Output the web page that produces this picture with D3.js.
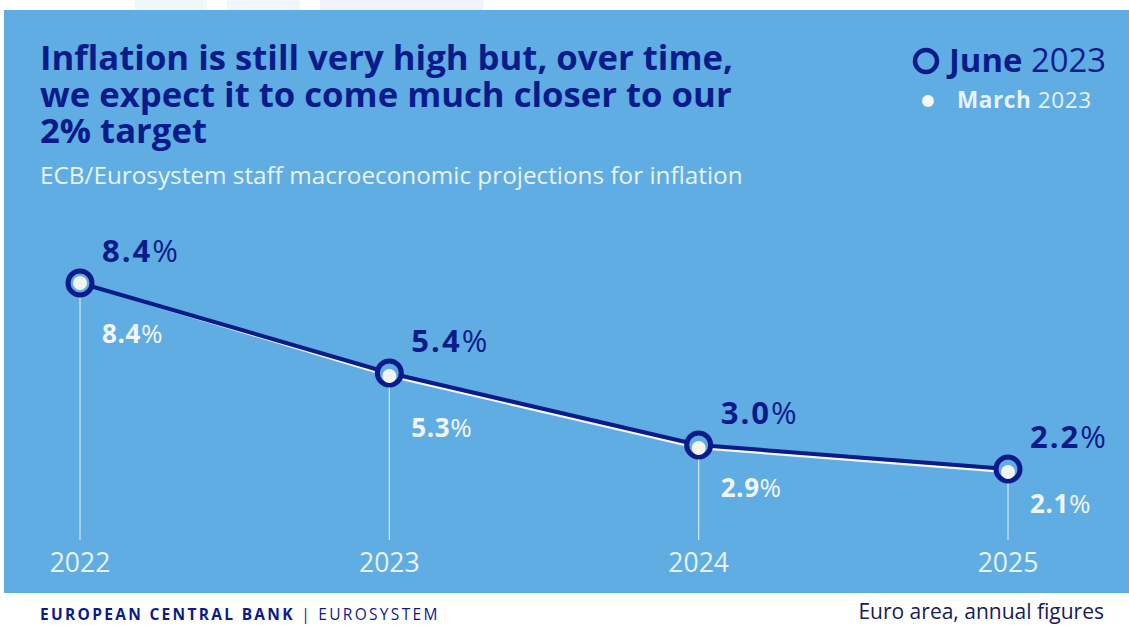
<!DOCTYPE html>
<html>
<head>
<meta charset="utf-8">
<script src="https://cdn.jsdelivr.net/npm/d3@7"></script>
<style>
  html, body { margin: 0; padding: 0; background: #fff; }
  svg { display: block; font-family: "Open Sans", sans-serif; }
</style>
</head>
<body>
<svg id="chart" width="1129" height="625"></svg>
<script>
// data
const years = ["2022", "2023", "2024", "2025"];
const june2023 = [8.4, 5.4, 3.0, 2.2];
const march2023 = [8.4, 5.3, 2.9, 2.1];

const titleLines = [
  "Inflation is still very high but, over time,",
  "we expect it to come much closer to our",
  "2% target"
];
const subtitle = "ECB/Eurosystem staff macroeconomic projections for inflation";

const navy = "#0b1b8a";
const panel = "#60ade3";
const light = "#e9f3fb";

const svg = d3.select("#chart");

// faint shapes peeking over the top of the panel
[[135, 207, "#eef8fb"], [227, 300, "#eff6fd"], [320, 483, "#f0f3fd"]].forEach(s => {
  svg.append("rect").attr("x", s[0]).attr("y", 0).attr("width", s[1] - s[0]).attr("height", 12).attr("fill", s[2]);
});

svg.append("rect")
  .attr("x", 4).attr("y", 10)
  .attr("width", 1125).attr("height", 583)
  .attr("fill", panel);

// title
svg.append("text")
  .attr("x", 40).attr("y", 70)
  .attr("fill", navy)
  .attr("font-size", 34.7).attr("font-weight", 700)
  .selectAll("tspan")
  .data(titleLines)
  .join("tspan")
  .attr("x", 40)
  .attr("dy", (d, i) => i ? 36.5 : 0)
  .text(d => d);

svg.append("text")
  .attr("x", 40).attr("y", 184)
  .attr("fill", light)
  .attr("font-size", 24.3)
  .text(subtitle);

// legend
svg.append("circle").attr("cx", 926).attr("cy", 61).attr("r", 11)
  .attr("fill", "none").attr("stroke", navy).attr("stroke-width", 4.5);
const lg1 = svg.append("text").attr("x", 949).attr("y", 72).attr("fill", navy).attr("font-size", 32.8);
lg1.append("tspan").attr("font-weight", 700).text("June");
lg1.append("tspan").text(" 2023");
svg.append("circle").attr("cx", 928).attr("cy", 101).attr("r", 6).attr("fill", "#f6f6f6");
const lg2 = svg.append("text").attr("x", 957).attr("y", 108).attr("fill", light)
  .attr("font-size", 22.5).attr("letter-spacing", 0.6);
lg2.append("tspan").attr("font-weight", 700).text("March");
lg2.append("tspan").text(" 2023");

// scales
const x = d3.scalePoint()
  .domain(years)
  .range([80, 1008]);

const y = d3.scaleLinear()
  .domain([0, 8.4])
  .range([535, 283]);

const g = svg.append("g");

// drop lines
g.selectAll(".drop")
  .data(years)
  .join("line")
  .attr("x1", d => x(d)).attr("x2", d => x(d))
  .attr("y1", (d, i) => y(june2023[i]))
  .attr("y2", 540)
  .attr("stroke", "#d6e9f7").attr("stroke-width", 1.2);

// year labels
g.selectAll(".year")
  .data(years)
  .join("text")
  .attr("x", d => x(d)).attr("y", 572)
  .attr("text-anchor", "middle")
  .attr("fill", light)
  .attr("font-size", 26.5)
  .text(d => d);

const line = d3.line()
  .x((d, i) => x(years[i]))
  .y(d => y(d));

g.append("path")
  .datum(march2023)
  .attr("fill", "none")
  .attr("stroke", "#f4f8fc")
  .attr("stroke-width", 2.5)
  .attr("d", line);

g.append("path")
  .datum(june2023)
  .attr("fill", "none")
  .attr("stroke", navy)
  .attr("stroke-width", 4)
  .attr("stroke-linejoin", "round")
  .attr("d", line);

g.selectAll(".jdot")
  .data(june2023)
  .join("circle")
  .attr("cx", (d, i) => x(years[i]))
  .attr("cy", d => y(d))
  .attr("r", 12)
  .attr("fill", panel)
  .attr("stroke", navy)
  .attr("stroke-width", 5);

g.selectAll(".mdot")
  .data(march2023)
  .join("circle")
  .attr("cx", (d, i) => x(years[i]))
  .attr("cy", d => y(d))
  .attr("r", 7)
  .attr("fill", "#f5f3f0");

// value labels
const fmt = d3.format(".1f");
const jl = g.selectAll(".jlab")
  .data(june2023)
  .join("text")
  .attr("x", (d, i) => x(years[i]) + 22)
  .attr("y", d => y(d) - 21)
  .attr("fill", navy)
  .attr("font-size", 31)
  .attr("letter-spacing", 2);
jl.append("tspan").attr("font-weight", 700).text(d => fmt(d));
jl.append("tspan").text("%");

const marchDy = [60, 61, 49, 41];
const ml = g.selectAll(".mlab")
  .data(march2023)
  .join("text")
  .attr("x", (d, i) => x(years[i]) + 22)
  .attr("y", (d, i) => y(d) + marchDy[i])
  .attr("fill", "#f2f6fa")
  .attr("font-size", 26)
  .attr("letter-spacing", 0.6);
ml.append("tspan").attr("font-weight", 700).text(d => fmt(d));
ml.append("tspan").text("%");

// footer
const f1 = svg.append("text").attr("x", 40).attr("y", 620)
  .attr("fill", navy).attr("font-size", 15.5).attr("letter-spacing", 2.3);
f1.append("tspan").attr("font-weight", 700).text("EUROPEAN CENTRAL BANK");
f1.append("tspan").text(" | EUROSYSTEM");

svg.append("text").attr("x", 1104).attr("y", 619)
  .attr("text-anchor", "end")
  .attr("fill", "#16205a").attr("font-size", 21)
  .text("Euro area, annual figures");
</script>
</body>
</html>
